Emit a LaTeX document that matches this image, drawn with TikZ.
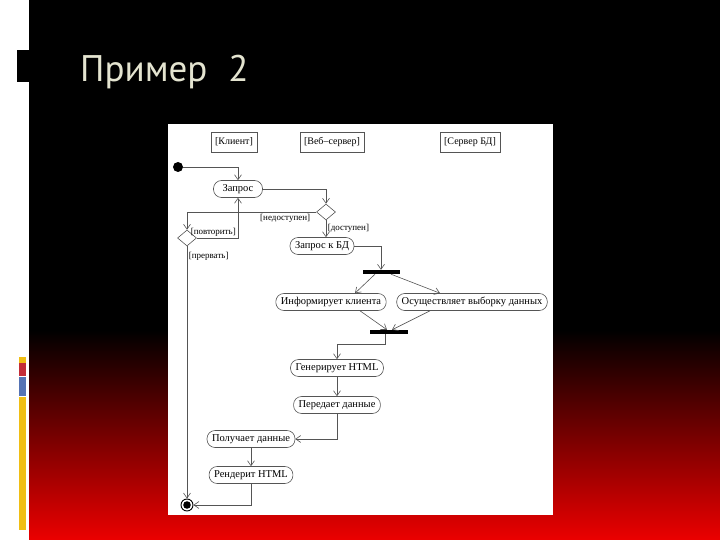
\documentclass[tikz,border=0pt]{standalone}
\usepackage{fontspec}
\setmainfont{Liberation Serif}
\newfontfamily\titlefont{PT Sans}
\usepackage{tikz}
\usetikzlibrary{arrows.meta, positioning, shapes.geometric, calc}
\definecolor{slidered}{RGB}{235,0,0}
\definecolor{titlegray}{RGB}{228,228,208}
\definecolor{bargold}{RGB}{240,190,20}
\definecolor{barred}{RGB}{195,45,55}
\definecolor{barblue}{RGB}{85,115,180}
\definecolor{umlgray}{RGB}{85,85,85}

\begin{document}
\begin{tikzpicture}[x=1pt, y=-1pt,
    arr/.style={-{Straight Barb[length=5pt, width=7pt]}, line width=0.6pt, umlgray},
    act/.style={draw=umlgray, line width=0.6pt, rounded corners=8pt, minimum height=17pt,
                inner xsep=5pt, inner ysep=1pt, text=black, font=\fontsize{10.5}{11}\selectfont},
    lane/.style={draw=umlgray, line width=0.6pt, minimum height=20pt, inner xsep=4pt,
                 font=\fontsize{10}{11}\selectfont},
    decide/.style={diamond, draw=umlgray, line width=0.6pt, minimum width=19pt,
                   minimum height=16pt, inner sep=0pt},
    syncbar/.style={rectangle, fill=black, minimum height=4pt, inner sep=0pt},
    guard/.style={text=black, font=\fontsize{9}{10}\selectfont, inner sep=1.5pt},
]
\useasboundingbox (0,0) rectangle (720,540);

% slide background
\fill[white] (0,0) rectangle (720,540);
\fill[black] (29,0) rectangle (720,330);
\shade[top color=black, bottom color=slidered] (29,330) rectangle (720,540);
\fill[black] (17,50) rectangle (29,82);
\fill[bargold] (19,357) rectangle (26,363);
\fill[barred] (19,363) rectangle (26,376);
\fill[barblue] (19,377) rectangle (26,396);
\fill[bargold] (19,397) rectangle (26,530);

\node[anchor=base west, inner sep=0pt, text=titlegray, font=\titlefont\fontsize{37}{40}\selectfont] (title) at (80,82) {Пример\hspace{0.3em} 2};

\fill[white] (168,124) rectangle (553,515);

% swimlanes
\node[lane] (client) at (234,142) {[Клиент]};
\node[lane] (web) at (332,142) {[Веб–сервер]};
\node[lane] (dbserver) at (470,142) {[Сервер БД]};

% activities
\node[circle, fill=black, minimum size=10pt, inner sep=0pt] (start) at (178,167) {};
\node[act, minimum width=49pt] (req) at (238,189) {Запрос};
\node[decide] (dec1) at (326,212) {};
\node[decide] (dec2) at (187,238) {};
\node[act] (dbreq) at (322,246) {Запрос к БД};
\node[syncbar, minimum width=37pt] (fork) at (381,272) {};
\node[act] (inform) at (331,302) {Информирует клиента};
\node[act] (select) at (472,302) {Осуществляет выборку данных};
\node[syncbar, minimum width=38pt] (join) at (389,332) {};
\node[act] (gen) at (337,368) {Генерирует HTML};
\node[act] (send) at (337,405) {Передает данные};
\node[act] (recv) at (251,439) {Получает данные};
\node[act] (render) at (251,475) {Рендерит HTML};
\node[circle, draw=black, line width=0.9pt, minimum size=12pt, inner sep=0pt] (final) at (187,505) {};
\fill[black] (final.center) circle (3.8);

% flows
\draw[arr] (start) -| (req);
\draw[arr] (req) -| (dec1);
\draw[arr] (dec1) -| node[guard, pos=0.12, below] {[недоступен]} (dec2);
\draw[arr] (dec2) -| node[guard, pos=0.2, above] {[повторить]} (req);
\draw[arr] (dec2) -- node[guard, pos=0.04, right] {[прервать]} (final);
\draw[arr] (dec1) -- node[guard, pos=0.45, right] {[доступен]} (dec1 |- dbreq.north);
\draw[arr] (dbreq) -| (fork);
\draw[arr] ([xshift=-6pt]fork.south) -- ([xshift=24pt]inform.north);
\draw[arr] ([xshift=10pt]fork.south) -- ([xshift=-32pt]select.north);
\draw[arr] ([xshift=29pt]inform.south) -- ([xshift=-2pt]join.north);
\draw[arr] ([xshift=-42pt]select.south) -- ([xshift=3pt]join.north);
\draw[arr] ([xshift=-4pt]join.south) -- ++(0,10) -| (gen);
\draw[arr] (gen) -- (send);
\draw[arr] (send) |- (recv);
\draw[arr] (recv) -- (render);
\draw[arr] (render) |- (final);
\end{tikzpicture}
\end{document}
